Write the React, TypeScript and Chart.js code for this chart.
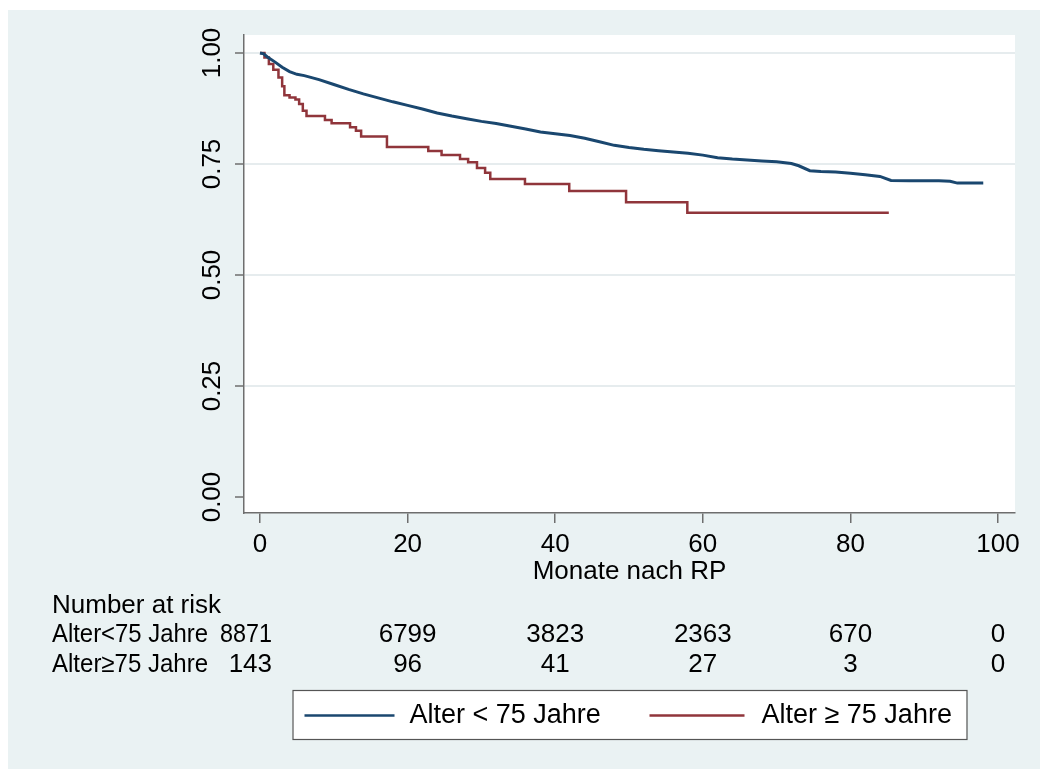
import React, { useEffect, useRef } from 'react';
import { Chart, registerables } from 'chart.js';

Chart.register(...registerables);

// ---------- data ----------
const youngTimes = [0, 0.5, 1, 2, 3, 4, 5, 6, 8, 10, 12, 14, 16, 18, 20, 22, 24, 26, 28, 30, 32, 34, 36, 38, 40, 42, 44, 46, 48, 50, 52, 54, 56, 58, 60, 62, 64, 66, 68, 70, 72, 73, 74.5, 76, 78, 80, 82, 84, 85.5, 88, 90, 92, 93.5, 94.5, 96, 98];
const youngSurvival = [1.0, 0.998, 0.991, 0.98, 0.968, 0.958, 0.952, 0.949, 0.94, 0.929, 0.918, 0.908, 0.899, 0.89, 0.882, 0.874, 0.865, 0.858, 0.852, 0.846, 0.841, 0.835, 0.829, 0.822, 0.818, 0.814, 0.808, 0.8, 0.792, 0.787, 0.783, 0.78, 0.777, 0.774, 0.77, 0.764, 0.761, 0.759, 0.757, 0.755, 0.751, 0.746, 0.735, 0.733, 0.732, 0.729, 0.726, 0.722, 0.713, 0.712, 0.712, 0.712, 0.711, 0.707, 0.707, 0.707];

const oldTimes = [0, 0.6, 1.2, 1.8, 2.5, 3.0, 3.3, 4.0, 4.8, 5.3, 5.8, 6.3, 8.8, 9.7, 12.2, 13.0, 13.7, 17.2, 22.8, 24.6, 27.1, 28.2, 29.4, 30.5, 31.2, 35.9, 41.9, 49.6, 57.9, 85.2];
const oldSurvival = [1.0, 0.99, 0.975, 0.962, 0.945, 0.925, 0.905, 0.9, 0.895, 0.885, 0.87, 0.858, 0.849, 0.842, 0.833, 0.825, 0.812, 0.788, 0.779, 0.77, 0.761, 0.754, 0.741, 0.73, 0.716, 0.705, 0.689, 0.664, 0.64, 0.64];

const xTicks = [0, 20, 40, 60, 80, 100];
const yTicks = [0, 0.25, 0.5, 0.75, 1];
const yTickLabels = ['0.00', '0.25', '0.50', '0.75', '1.00'];

const riskTimes = [0, 20, 40, 60, 80, 100];
const riskYoung = [8871, 6799, 3823, 2363, 670, 0];
const riskOld = [143, 96, 41, 27, 3, 0];
const riskRowLabels = ['Alter<75 Jahre', 'Alter\u226575 Jahre'];
const riskTitle = 'Number at risk';
const seriesLabels = ['Alter < 75 Jahre', 'Alter \u2265 75 Jahre'];
const xTitle = 'Monate nach RP';

// ---------- styles ----------
const FONT = '"Liberation Sans", Arial, Helvetica, sans-serif';
const BG = '#eaf2f3';
const GRID = '#e6ecee';
const BLUE = '#1a476f';
const RED = '#90353b';
const AXIS = '#6e6e6e';

const decorPlugin = {
  id: 'decor',
  beforeDraw(chart: any) {
    const { ctx, chartArea: a, width, height } = chart;
    ctx.save();
    ctx.fillStyle = BG;
    ctx.fillRect(0, 0, width, height);
    ctx.fillStyle = '#ffffff';
    ctx.fillRect(a.left, a.top, a.right - a.left, a.bottom - a.top);
    ctx.restore();
  },
  afterDraw(chart: any) {
    const { ctx, chartArea: a } = chart;
    const xs = chart.scales.x;
    const ys = chart.scales.y;
    ctx.save();
    ctx.fillStyle = '#000';
    ctx.font = `26px ${FONT}`;

    // y tick labels (rotated)
    yTicks.forEach((v, i) => {
      const py = ys.getPixelForValue(v);
      ctx.save();
      ctx.translate(a.left - 31, py);
      ctx.rotate(-Math.PI / 2);
      ctx.textAlign = 'center';
      ctx.textBaseline = 'middle';
      ctx.fillText(yTickLabels[i], 0, 0);
      ctx.restore();
    });

    // x title
    ctx.textAlign = 'center';
    ctx.textBaseline = 'middle';
    ctx.fillText(xTitle, (a.left + a.right) / 2, a.bottom + 59);

    // risk table
    const tableLeft = 44;
    const titleY = a.bottom + 93;
    const rowY = [a.bottom + 122, a.bottom + 152];
    ctx.textAlign = 'left';
    ctx.fillText(riskTitle, tableLeft, titleY);
    const rows = [riskYoung, riskOld];
    rows.forEach((row, r) => {
      ctx.textAlign = 'left';
      ctx.fillText(riskRowLabels[r], tableLeft, rowY[r], 156);
      row.forEach((n, i) => {
        const px = xs.getPixelForValue(riskTimes[i]);
        if (i === 0) {
          ctx.textAlign = 'right';
          ctx.fillText(String(n), px + 12, rowY[r], 52);
        } else {
          ctx.textAlign = 'center';
          ctx.fillText(String(n), px, rowY[r]);
        }
      });
    });

    // legend box
    const cx = (a.left + a.right) / 2;
    const bw = 674;
    const bh = 49;
    const bx = cx - bw / 2;
    const by = a.bottom + 177;
    ctx.fillStyle = '#ffffff';
    ctx.fillRect(bx, by, bw, bh);
    ctx.strokeStyle = '#555';
    ctx.lineWidth = 1.2;
    ctx.strokeRect(bx + 0.5, by + 0.5, bw, bh);
    const ly = by + bh / 2 + 1;
    const items = [
      { color: BLUE, x0: 12, x1: 102, tx: 117, label: seriesLabels[0] },
      { color: RED, x0: 357, x1: 452, tx: 469, label: seriesLabels[1] },
    ];
    ctx.font = `27px ${FONT}`;
    items.forEach((it) => {
      ctx.strokeStyle = it.color;
      ctx.lineWidth = 2.5;
      ctx.beginPath();
      ctx.moveTo(bx + it.x0, ly);
      ctx.lineTo(bx + it.x1, ly);
      ctx.stroke();
      ctx.fillStyle = '#000';
      ctx.textAlign = 'left';
      ctx.textBaseline = 'middle';
      ctx.fillText(it.label, bx + it.tx, ly);
    });
    ctx.restore();
  },
};

export default function App() {
  const canvasRef = useRef<HTMLCanvasElement | null>(null);

  useEffect(() => {
    document.body.style.margin = '0';
    document.body.style.overflow = 'hidden';
    const canvas = canvasRef.current;
    if (!canvas) return;
    const chart = new Chart(canvas, {
      type: 'line',
      data: {
        datasets: [
          {
            label: seriesLabels[0],
            data: youngTimes.map((t, i) => ({ x: t, y: youngSurvival[i] })),
            borderColor: BLUE,
            borderWidth: 3,
            pointRadius: 0,
            fill: false,
            tension: 0,
          },
          {
            label: seriesLabels[1],
            data: oldTimes.map((t, i) => ({ x: t, y: oldSurvival[i] })),
            borderColor: RED,
            borderWidth: 2.5,
            pointRadius: 0,
            fill: false,
            stepped: 'before',
          },
        ],
      },
      options: {
        animation: false,
        responsive: false,
        maintainAspectRatio: false,
        layout: { padding: { left: 0, top: 25, right: 25, bottom: 0 } },
        plugins: { legend: { display: false }, tooltip: { enabled: false } },
        elements: { point: { radius: 0 } },
        scales: {
          x: {
            type: 'linear',
            min: -2.17,
            max: 102.3,
            afterBuildTicks: (s: any) => {
              s.ticks = xTicks.map((v) => ({ value: v }));
            },
            afterFit: (s: any) => {
              s.height = 256;
            },
            grid: {
              drawOnChartArea: false,
              drawTicks: true,
              tickLength: 10,
              color: AXIS,
              lineWidth: 1.5,
            },
            border: { display: true, color: AXIS, width: 1.5 },
            ticks: {
              font: { size: 26, family: FONT },
              color: '#000',
              padding: 6,
              maxRotation: 0,
              autoSkip: false,
            },
          },
          y: {
            type: 'linear',
            min: -0.036,
            max: 1.0405,
            afterBuildTicks: (s: any) => {
              s.ticks = yTicks.map((v) => ({ value: v }));
            },
            afterFit: (s: any) => {
              s.width = 236;
            },
            grid: {
              color: (c: any) => (c.tick && c.tick.value === 0 ? 'rgba(0,0,0,0)' : GRID),
              lineWidth: 2,
              drawTicks: true,
              tickLength: 9,
              tickColor: AXIS,
              tickWidth: 1.5,
            },
            border: { display: true, color: AXIS, width: 1.5 },
            ticks: { display: false },
          },
        },
      },
      plugins: [decorPlugin],
    } as any);
    return () => chart.destroy();
  }, []);

  return (
    <div style={{ width: 1040, height: 769, paddingLeft: 8, paddingTop: 10, boxSizing: 'border-box', background: '#ffffff' }}>
      <canvas ref={canvasRef} width={1032} height={759} style={{ display: 'block', width: 1032, height: 759 }} />
    </div>
  );
}
